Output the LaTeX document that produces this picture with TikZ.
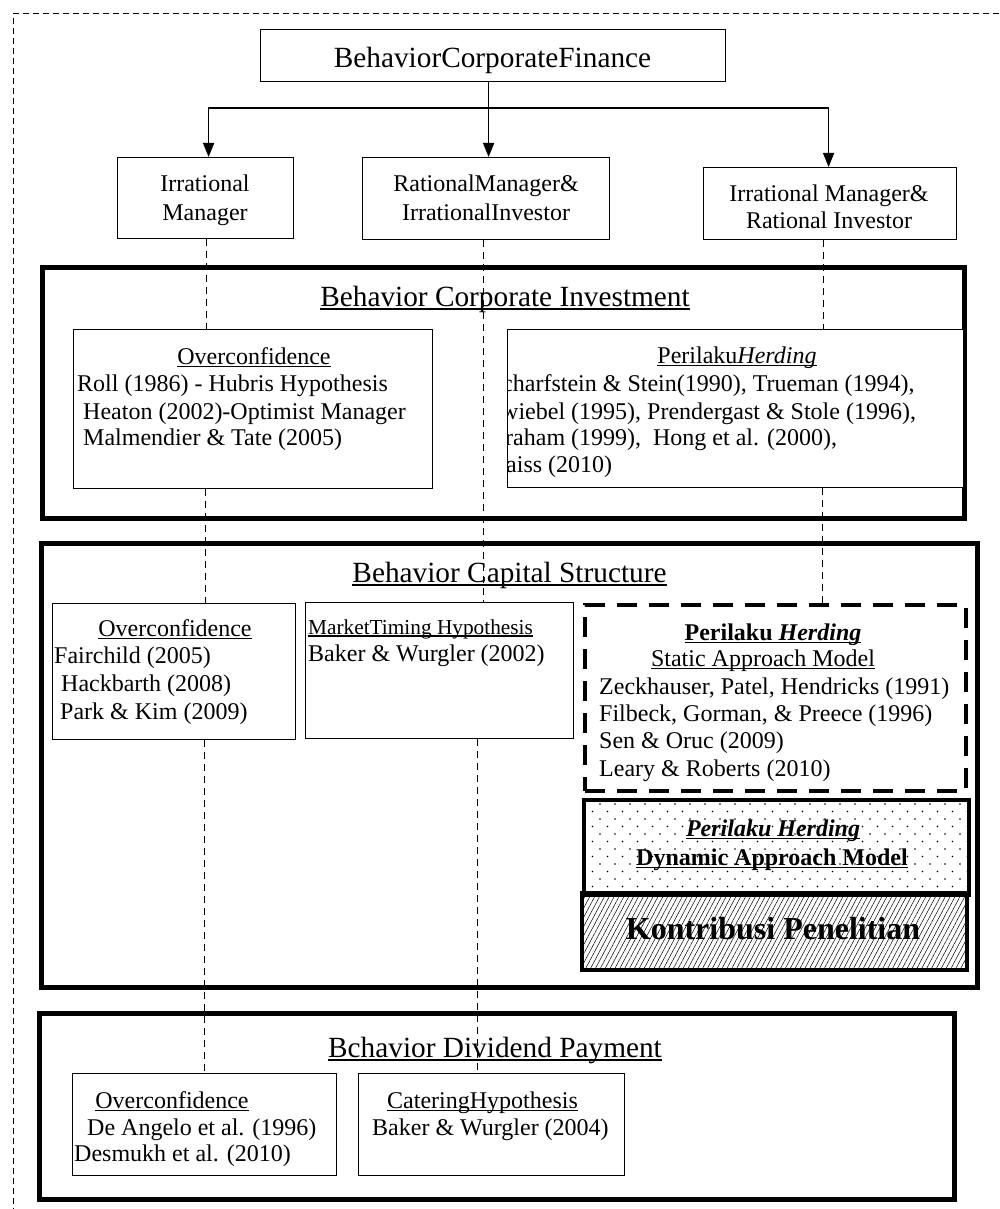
\documentclass[tikz,border=0pt]{standalone}
\usepackage{fontspec}
\setmainfont{Liberation Serif}
\usetikzlibrary{arrows.meta,patterns.meta}
\pgfdeclarelayer{back}
\pgfsetlayers{back,main}

% underline that sits just under the baseline
\newcommand\ulin[1]{\leavevmode\setbox0=\hbox{#1}\rlap{\vrule height -0.07em depth 0.12em width \wd0}\box0}

\tikzset{
  frame/.style={line width=1pt, dash pattern=on 6pt off 4pt},
  bigbox/.style={draw, rectangle, line width=5pt, inner sep=0pt, anchor=north west},
  inbox/.style={draw, fill=white, rectangle, line width=1.2pt, inner sep=0pt, anchor=north west},
  herdbox/.style={inbox, line width=4pt, dash pattern=on 20pt off 12pt},
  dotbox/.style={draw, rectangle, line width=4pt, inner sep=0pt, anchor=north west,
    pattern={Dots[distance=15pt,radius=0.8pt]},
    preaction={pattern={Dots[distance=15pt,radius=0.8pt,xshift=7.5pt,yshift=7.5pt]}}},
  hatchbox/.style={draw, rectangle, line width=4pt, inner sep=0pt, anchor=north west,
    pattern={Lines[angle=62,distance=4.3pt,line width=0.5pt]}},
  link/.style={line width=1pt, dash pattern=on 7pt off 5pt},
  arr/.style={line width=1.5pt, -{Triangle[length=14pt,width=11pt]}},
  body/.style={inner sep=0pt, font=\fontsize{24}{28}\selectfont, yshift=-8pt},
  bl/.style={body, anchor=base west},
  bc/.style={body, anchor=base},
  small/.style={inner sep=0pt, anchor=base west, font=\fontsize{21.3}{25}\selectfont, yshift=-7pt},
  head/.style={inner sep=0pt, anchor=base, font=\fontsize{29.3}{33}\selectfont, yshift=-10pt},
}

\begin{document}
\begin{tikzpicture}[x=1pt,y=-1pt]
\useasboundingbox (0,0) rectangle (999,1209);

% outer dashed frame
\coordinate (ftr) at (999,14);
\coordinate (ftl) at (13,14);
\coordinate (fbl) at (13,1209);
\draw[frame] (ftr) -- (ftl) -- (fbl);

% top level
\node[inbox, minimum width=465pt, minimum height=52pt] (fin) at (260,29) {};
\node[head] (finT) at (492.5,58) {BehaviorCorporateFinance};

% second level
\node[inbox, minimum width=176pt, minimum height=81pt] (im) at (117,157) {};
\node[bc] (imT1) at (205,183) {Irrational};
\node[bc] (imT2) at (205,212) {Manager};

\node[inbox, minimum width=247pt, minimum height=82pt] (rm) at (362,157) {};
\node[bc] (rmT1) at (486,184) {RationalManager\&};
\node[bc] (rmT2) at (486,212) {IrrationalInvestor};

\node[inbox, minimum width=253pt, minimum height=72pt] (imri) at (703,167) {};
\node[bc] (imriT1) at (829,193) {Irrational Manager\&};
\node[bc] (imriT2) at (829,220) {Rational Investor};

% arrows from the top box
\coordinate (jn) at (488,108);
\draw[arr] ([xshift=-4.5pt]fin.south) -- ([xshift=-4.5pt]fin.south |- rm.north);
\draw[arr] (jn) -| ([xshift=3pt]im.north);
\draw[arr] (jn) -| ([xshift=-1.5pt]imri.north);

% ---- Behavior Corporate Investment
\node[bigbox, minimum width=922pt, minimum height=251pt] (bci) at (40,265) {};
\node[head] (bciT) at (505,296) {\ulin{Behavior Corporate Investment}};

\node[inbox, minimum width=359pt, minimum height=159pt] (oc1) at (73,329) {};
\node[bc] (oc1T0) at (254,356) {\ulin{Overconfidence}};
\node[bl] (oc1T1) at (77,383) {Roll (1986) - Hubris Hypothesis};
\node[bl] (oc1T2) at (83,411) {Heaton (2002)-Optimist Manager};
\node[bl] (oc1T3) at (83,437) {Malmendier \& Tate (2005)};

\node[inbox, minimum width=456pt, minimum height=158pt] (hd1) at (507,329) {};
\node[bc] (hd1T0) at (737,355) {\ulin{Perilaku\textit{Herding}}};
\begin{scope}
  \clip ([xshift=0.6pt]hd1.north west) rectangle (hd1.south east);
  \node[bl] (hd1T1) at (502,383) {charfstein \& Stein(1990), Trueman (1994),};
  \node[bl] (hd1T2) at (501,411) {wiebel (1995), Prendergast \& Stole (1996),};
  \node[bl] (hd1T3) at (505,437) {raham (1999),\ \ Hong et al. (2000),};
  \node[bl] (hd1T4) at (506,464) {aiss (2010)};
\end{scope}

% ---- Behavior Capital Structure
\node[bigbox, minimum width=936pt, minimum height=444pt] (bcs) at (39,541) {};
\node[head] (bcsT) at (509.5,572) {\ulin{Behavior Capital Structure}};

\node[inbox, minimum width=243pt, minimum height=136pt] (oc2) at (52,603) {};
\node[bc] (oc2T0) at (175,628) {\ulin{Overconfidence}};
\node[bl] (oc2T1) at (54,655) {Fairchild (2005)};
\node[bl] (oc2T2) at (61,683) {Hackbarth (2008)};
\node[bl] (oc2T3) at (60,711) {Park \& Kim (2009)};

\node[inbox, minimum width=268pt, minimum height=136pt] (mt) at (305,602) {};
\node[small] (mtT0) at (308,627) {\ulin{MarketTiming Hypothesis}};
\node[bl] (mtT1) at (308,653) {Baker \& Wurgler (2002)};

\node[herdbox, minimum width=381pt, minimum height=186pt] (hs) at (583,603) {};
\node[bc] (hsT0) at (773,632) {\ulin{\textbf{Perilaku \textit{Herding}}}};
\node[bc] (hsT1) at (763,658) {\ulin{Static Approach Model}};
\node[bl] (hsT2) at (599,686) {Zeckhauser, Patel, Hendricks (1991)};
\node[bl] (hsT3) at (599,713) {Filbeck, Gorman, \& Preece (1996)};
\node[bl] (hsT4) at (599,740) {Sen \& Oruc (2009)};
\node[bl] (hsT5) at (599,768) {Leary \& Roberts (2010)};

\node[dotbox, minimum width=385pt, minimum height=95pt] (dy) at (582,798) {};
\node[bc] (dyT0) at (773,828) {\ulin{\textbf{\textit{Perilaku Herding}}}};
\node[bc] (dyT1) at (772,857) {\ulin{\textbf{Dynamic Approach Model}}};

\node[hatchbox, minimum width=385pt, minimum height=77pt] (kp) at (582,893) {};
\node[inner sep=0pt, anchor=base, font=\fontsize{32}{36}\selectfont\bfseries, yshift=-11pt] (kpT) at (773,928) {Kontribusi Penelitian};

% ---- Behavior Dividend Payment
\node[bigbox, minimum width=915pt, minimum height=186pt] (bdp) at (37,1011) {};
\node[head] (bdpT) at (495,1047) {\ulin{Bchavior Dividend Payment}};

\node[inbox, minimum width=264pt, minimum height=102pt] (oc3) at (72,1073) {};
\node[bc] (oc3T0) at (172,1100) {\ulin{Overconfidence}};
\node[bl] (oc3T1) at (87,1127) {De Angelo et al. (1996)};
\node[bl] (oc3T2) at (74,1153) {Desmukh et al. (2010)};

\node[inbox, minimum width=266pt, minimum height=102pt] (ct) at (358,1073) {};
\node[bl] (ctT0) at (387,1100) {\ulin{CateringHypothesis}};
\node[bl] (ctT1) at (372,1127) {Baker \& Wurgler (2004)};

% dashed links, kept underneath the boxes
\begin{pgfonlayer}{back}
  \draw[link] ([xshift=1pt]im.south) -- ([xshift=1pt]im.south |- oc1.north);
  \draw[link] (im.south |- oc1.south) -- (im.south |- oc2.north);
  \draw[link] ([xshift=-1.5pt]im.south |- oc2.south) -- ([xshift=-1.5pt]im.south |- oc3.north);
  \draw[link] ([xshift=-3pt]rm.south) -- ([xshift=-3pt]rm.south |- mt.north);
  \draw[link] ([xshift=-9pt]rm.south |- mt.south) -- ([xshift=-9pt]rm.south |- ct.north);
  \draw[link] ([xshift=-6.5pt]imri.south) -- ([xshift=-6.5pt]imri.south |- hd1.north);
  \draw[link] ([xshift=-7.5pt]imri.south |- hd1.south) -- ([xshift=-7.5pt]imri.south |- hs.north);
\end{pgfonlayer}
\end{tikzpicture}
\end{document}
